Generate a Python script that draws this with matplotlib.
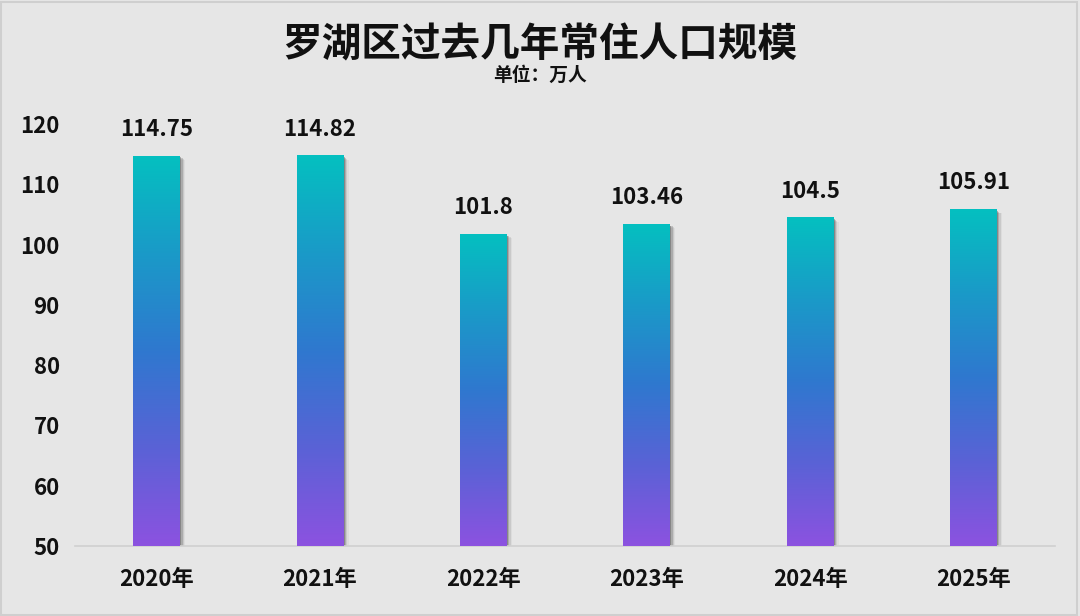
import matplotlib
matplotlib.use("Agg")
import matplotlib.pyplot as plt
import numpy as np
from matplotlib.colors import LinearSegmentedColormap
from matplotlib.patches import Rectangle

plt.rcParams['font.family'] = ['Noto Sans CJK SC', 'DejaVu Sans']

categories = ["2020年", "2021年", "2022年", "2023年", "2024年", "2025年"]
values = [114.75, 114.82, 101.8, 103.46, 104.5, 105.91]
value_labels = ["114.75", "114.82", "101.8", "103.46", "104.5", "105.91"]
yticks = [50, 60, 70, 80, 90, 100, 110, 120]
title = "罗湖区过去几年常住人口规模"
subtitle = "单位：万人"

bg = "#e6e6e6"
fig = plt.figure(figsize=(10.8, 6.16), dpi=100, facecolor=bg)
fig.patches.append(Rectangle((0.001, 0.001), 0.996, 0.996, transform=fig.transFigure,
                             fill=False, edgecolor="#cfcfcf", linewidth=1.5))
ax = fig.add_axes([0.0694, 0.1136, 0.9076, 0.6851])
ax.set_facecolor(bg)

ymin, ymax = 50, 120
ax.set_ylim(ymin, ymax)
x = np.arange(len(categories))
ax.set_xlim(-0.5, len(categories) - 0.5)
width = 0.285

cmap = LinearSegmentedColormap.from_list("g", ["#8c52e0", "#5a62d6", "#2f78cf", "#1a9ac8", "#04c0c0"])
grad = np.linspace(0, 1, 256).reshape(-1, 1)

for i, (xi, v) in enumerate(zip(x, values)):
    # shadow
    for k, a in enumerate([0.35, 0.22, 0.12, 0.06]):
        sh = Rectangle((xi - width / 2 + 0.008 + k * 0.008, ymin), width, v - ymin - 0.3 - k * 0.15,
                       facecolor="#444444", alpha=a, edgecolor="none", zorder=1)
        ax.add_patch(sh)
    bar = ax.bar(xi, v - ymin, bottom=ymin, width=width, color=bg, zorder=2)[0]
    im = ax.imshow(grad, extent=[xi - width / 2, xi + width / 2, ymin, v], origin="lower",
                   aspect="auto", cmap=cmap, zorder=3)
    im.set_clip_path(bar)
    ax.text(xi, v + 2.4, value_labels[i], ha="center", va="bottom",
            fontsize=16, fontweight="bold", color="#111111", zorder=4)

ax.set_xticks(x)
ax.set_xticklabels(categories, fontsize=16, fontweight="bold", color="#111111")
ax.set_yticks(yticks)
ax.set_yticklabels([str(t) for t in yticks], fontsize=16, fontweight="bold", color="#111111")
ax.tick_params(axis="both", length=0)
ax.tick_params(axis="x", pad=16)
ax.tick_params(axis="y", pad=11)
for s in ["top", "right", "left"]:
    ax.spines[s].set_visible(False)
ax.spines["bottom"].set_color("#d0d0d0")
ax.spines["bottom"].set_linewidth(1.2)

fig.text(0.5, 0.927, title, ha="center", va="center", fontsize=28.5, fontweight="bold", color="#111111")
fig.text(0.5, 0.877, subtitle, ha="center", va="center", fontsize=13.5, fontweight="bold", color="#111111")

fig.savefig("out.png", dpi=100, facecolor=bg)
